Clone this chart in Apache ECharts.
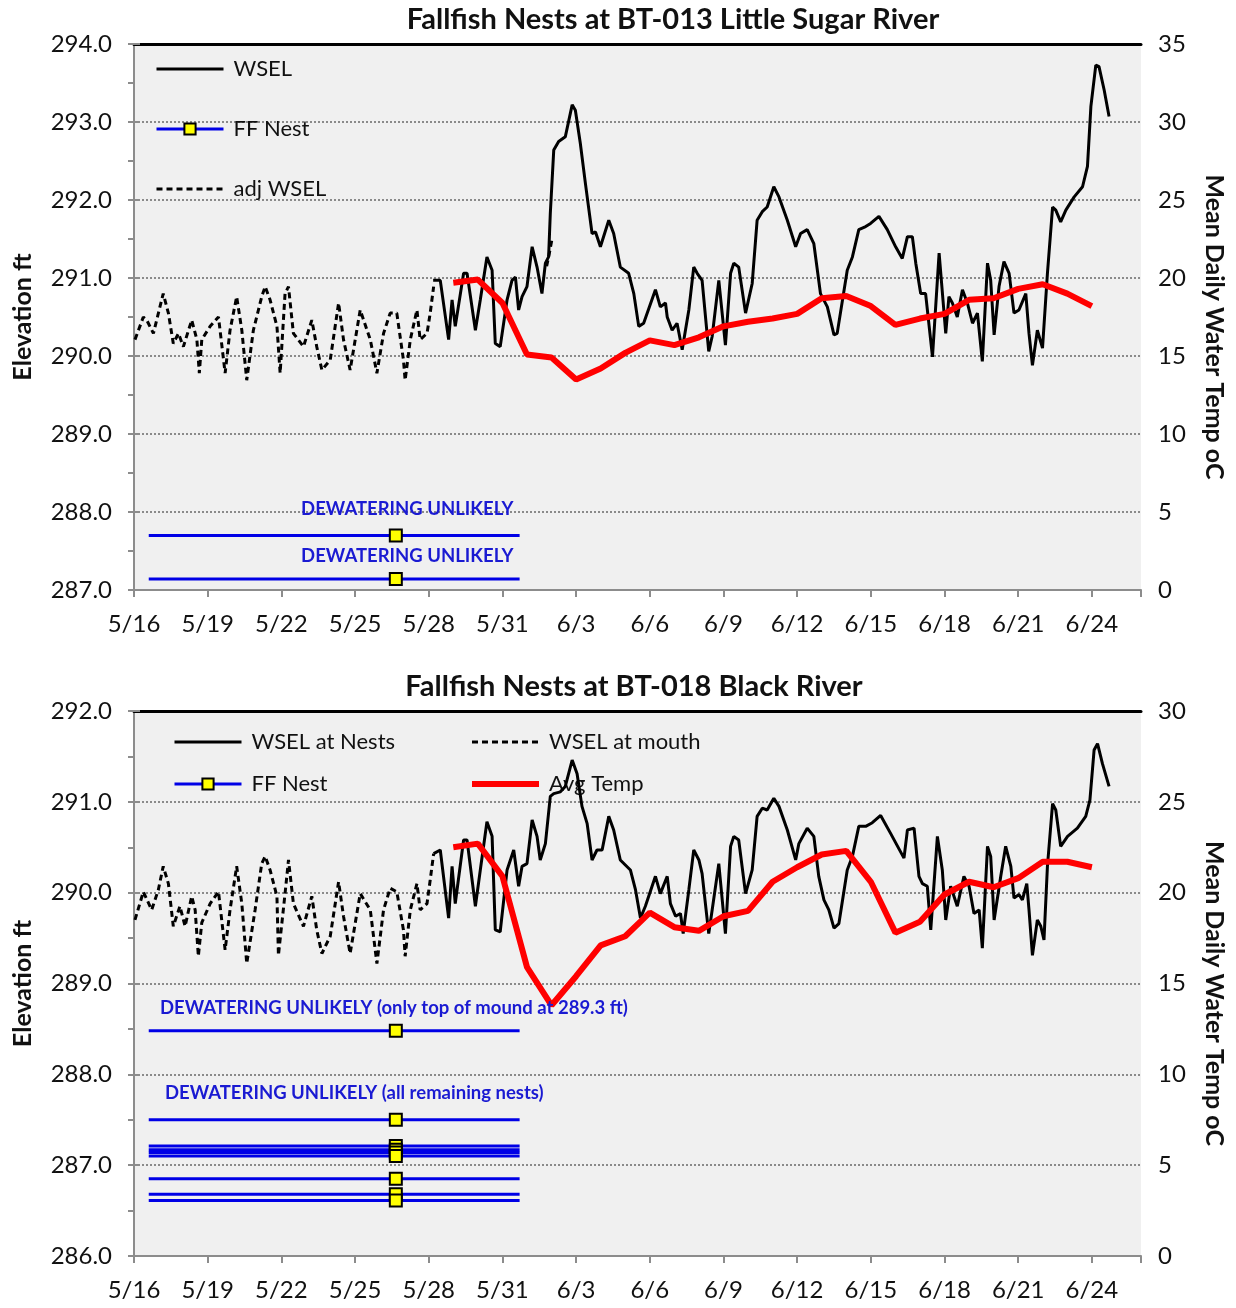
<!DOCTYPE html>
<html><head><meta charset="utf-8">
<script src="https://cdn.jsdelivr.net/npm/echarts@6/dist/echarts.min.js"></script>
<style>html,body{margin:0;padding:0;background:#fff}#c{width:1236px;height:1308px}</style>
</head><body><div id="c"></div>
<script>
// ---------- DATA (x = days since 5/16) ----------
const topTitle = 'Fallfish Nests at BT-013 Little Sugar River';
const bottomTitle = 'Fallfish Nests at BT-018 Black River';

const topAdjWsel = [[0.04,290.21],[0.38,290.50],[0.52,290.46],[0.79,290.29],[1.19,290.80],[1.40,290.55],[1.60,290.16],[1.81,290.29],[2.01,290.12],[2.35,290.46],[2.56,290.21],[2.66,289.78],[2.76,290.21],[3.10,290.38],[3.44,290.50],[3.71,289.78],[3.91,290.33],[4.18,290.76],[4.39,290.33],[4.59,289.69],[4.86,290.33],[5.20,290.76],[5.34,290.89],[5.54,290.72],[5.82,290.38],[5.95,289.78],[6.15,290.80],[6.29,290.89],[6.49,290.29],[6.90,290.12],[7.24,290.46],[7.44,290.12],[7.65,289.82],[7.99,289.95],[8.33,290.68],[8.53,290.21],[8.80,289.82],[9.21,290.59],[9.62,290.21],[9.89,289.78],[10.16,290.29],[10.43,290.55],[10.70,290.55],[10.97,289.95],[11.04,289.69],[11.25,290.21],[11.52,290.59],[11.65,290.21],[11.93,290.29],[12.06,290.55],[12.20,290.89],[12.4,null],[16.80,291.15],[16.90,291.30],[17.02,291.50]];

const topWsel = [[12.18,290.97],[12.47,290.97],[12.81,290.21],[12.95,290.72],[13.08,290.38],[13.42,291.06],[13.56,291.06],[13.90,290.33],[14.10,290.72],[14.37,291.27],[14.58,291.10],[14.71,290.16],[14.91,290.12],[15.19,290.72],[15.39,290.97],[15.53,291.01],[15.66,290.59],[15.80,290.76],[16.00,290.89],[16.21,291.40],[16.41,291.14],[16.61,290.80],[16.75,291.19],[16.88,291.27],[16.95,291.83],[17.09,292.64],[17.29,292.75],[17.56,292.81],[17.84,293.22],[17.97,293.15],[18.17,292.73],[18.38,292.21],[18.65,291.57],[18.79,291.59],[18.99,291.40],[19.33,291.74],[19.53,291.57],[19.80,291.14],[20.14,291.06],[20.35,290.80],[20.55,290.38],[20.75,290.42],[21.23,290.85],[21.43,290.63],[21.64,290.68],[21.71,290.50],[21.91,290.33],[22.11,290.42],[22.32,290.08],[22.59,290.59],[22.79,291.14],[22.93,291.06],[23.13,290.97],[23.40,290.06],[23.54,290.25],[23.81,290.97],[24.08,290.14],[24.29,291.06],[24.42,291.19],[24.62,291.14],[24.90,290.55],[25.17,290.93],[25.37,291.74],[25.58,291.85],[25.78,291.91],[26.05,292.17],[26.26,292.04],[26.60,291.74],[26.94,291.40],[27.14,291.57],[27.41,291.62],[27.68,291.44],[27.95,290.80],[28.23,290.63],[28.50,290.27],[28.63,290.29],[29.04,291.10],[29.25,291.27],[29.51,291.62],[29.79,291.66],[29.99,291.70],[30.33,291.79],[30.67,291.62],[31.01,291.40],[31.28,291.25],[31.49,291.53],[31.69,291.53],[31.83,291.19],[32.03,290.80],[32.23,290.80],[32.51,289.99],[32.78,291.32],[33.05,290.29],[33.18,290.76],[33.32,290.68],[33.52,290.50],[33.73,290.85],[33.93,290.68],[34.14,290.42],[34.34,290.55],[34.54,289.93],[34.75,291.19],[34.88,290.97],[35.02,290.27],[35.22,290.89],[35.42,291.21],[35.63,291.06],[35.83,290.55],[36.03,290.59],[36.31,290.80],[36.44,290.29],[36.58,289.88],[36.78,290.33],[36.99,290.10],[37.19,291.06],[37.40,291.91],[37.53,291.87],[37.73,291.72],[37.94,291.87],[38.28,292.04],[38.62,292.17],[38.82,292.43],[38.96,293.20],[39.16,293.73],[39.29,293.71],[39.50,293.41],[39.70,293.07]];

const tempDays = [13,14,15,16,17,18,19,20,21,22,23,24,25,26,27,28,29,30,31,32,33,34,35,36,37,38,39];
const topTemp = [19.7,19.9,18.4,15.1,14.9,13.5,14.2,15.2,16.0,15.7,16.2,16.9,17.2,17.4,17.7,18.7,18.85,18.2,17.0,17.4,17.7,18.6,18.7,19.3,19.6,19.0,18.2];
const bottomTemp = [22.5,22.7,20.9,15.9,13.8,15.4,17.1,17.6,18.9,18.1,17.9,18.7,19.0,20.6,21.4,22.1,22.3,20.6,17.8,18.4,19.9,20.6,20.3,20.8,21.7,21.7,21.4];

const bottomMouth = [[0.04,289.70],[0.38,290.01],[0.72,289.81],[0.99,290.03],[1.19,290.29],[1.40,290.10],[1.60,289.63],[1.87,289.85],[2.08,289.63],[2.35,289.96],[2.49,289.81],[2.62,289.30],[2.76,289.67],[3.10,289.88],[3.44,290.01],[3.71,289.37],[3.91,289.81],[4.18,290.29],[4.39,289.88],[4.59,289.22],[4.93,289.81],[5.20,290.32],[5.34,290.40],[5.54,290.25],[5.82,289.96],[5.88,289.31],[6.15,289.99],[6.29,290.36],[6.49,289.88],[6.90,289.63],[7.24,289.96],[7.44,289.59],[7.65,289.33],[7.99,289.52],[8.33,290.12],[8.53,289.74],[8.80,289.33],[9.21,289.99],[9.62,289.81],[9.89,289.22],[10.16,289.81],[10.43,290.05],[10.70,290.01],[10.97,289.59],[11.04,289.30],[11.25,289.81],[11.52,290.10],[11.65,289.81],[11.93,289.88],[12.06,290.14],[12.20,290.43]];

const bottomNests = [[12.20,290.43],[12.47,290.47],[12.81,289.72],[12.95,290.29],[13.08,289.88],[13.42,290.58],[13.56,290.58],[13.90,289.85],[14.10,290.25],[14.37,290.78],[14.58,290.62],[14.71,289.59],[14.91,289.57],[15.19,290.25],[15.46,290.47],[15.66,290.07],[15.80,290.29],[16.00,290.32],[16.21,290.80],[16.41,290.62],[16.54,290.36],[16.75,290.54],[16.95,291.06],[17.09,291.09],[17.36,291.11],[17.56,291.17],[17.84,291.46],[18.04,291.31],[18.24,290.95],[18.45,290.76],[18.65,290.36],[18.85,290.47],[19.06,290.47],[19.33,290.84],[19.53,290.69],[19.80,290.36],[20.21,290.25],[20.42,290.03],[20.62,289.72],[20.82,289.85],[21.23,290.18],[21.43,289.99],[21.71,290.18],[21.84,289.88],[22.05,289.74],[22.25,289.77],[22.36,289.55],[22.59,290.03],[22.79,290.47],[23.00,290.36],[23.13,290.21],[23.40,289.55],[23.54,289.81],[23.81,290.32],[24.08,289.55],[24.29,290.51],[24.42,290.62],[24.62,290.58],[24.90,289.99],[25.17,290.25],[25.37,290.84],[25.58,290.93],[25.78,290.91],[26.05,291.04],[26.26,290.95],[26.60,290.69],[26.94,290.36],[27.07,290.54],[27.41,290.71],[27.68,290.62],[27.88,290.18],[28.09,289.92],[28.29,289.81],[28.50,289.61],[28.70,289.66],[29.04,290.25],[29.25,290.40],[29.51,290.73],[29.79,290.73],[30.06,290.77],[30.40,290.85],[30.81,290.65],[31.35,290.38],[31.49,290.69],[31.76,290.71],[31.96,290.18],[32.10,290.10],[32.30,290.07],[32.44,289.59],[32.71,290.62],[32.91,290.25],[33.05,289.70],[33.25,290.07],[33.52,289.85],[33.79,290.18],[34.00,290.07],[34.20,289.77],[34.41,289.81],[34.54,289.39],[34.75,290.51],[34.88,290.40],[35.02,289.70],[35.29,290.18],[35.49,290.51],[35.70,290.29],[35.83,289.94],[36.03,289.98],[36.17,289.92],[36.35,290.10],[36.44,289.81],[36.58,289.31],[36.78,289.70],[36.92,289.63],[37.05,289.48],[37.19,290.29],[37.40,290.98],[37.53,290.91],[37.73,290.51],[38.01,290.62],[38.41,290.71],[38.75,290.84],[38.92,291.02],[39.09,291.57],[39.23,291.64],[39.43,291.42],[39.70,291.17]];

const nestDays = [0.6, 10.66, 15.7];
const topNestLevels = [287.70, 287.14];
const bottomNestLevels = [288.48, 287.50, 287.21, 287.17, 287.14, 287.10, 286.85, 286.68, 286.61];

const topNotes = [
  {text: 'DEWATERING UNLIKELY', at: [15.45, 288.04]},
  {text: 'DEWATERING UNLIKELY', at: [15.45, 287.44]}
];
const bottomNotes = [
  {text: 'DEWATERING UNLIKELY (only top of mound at 289.3 ft)', at: [1.06, 288.73]},
  {text: 'DEWATERING UNLIKELY (all remaining nests)', at: [1.26, 287.79]}
];

// ---------- CHART ----------
const FONT = 'Lato, "Open Sans", sans-serif';
const GRAY = '#8c8c8c';
const BLUE = '#0000e6';
const NOTE_BLUE = '#1a1ad2';

function dayLabel(v) {
  if (Math.abs(v % 3) > 1e-6) return '';
  const d = 16 + v;
  return d <= 31 ? '5/' + d : '6/' + (d - 31);
}

function xAxisBottom(gi) {
  return {
    type: 'value', gridIndex: gi, position: 'bottom', min: 0, max: 41, interval: 3,
    axisLine: {show: true, lineStyle: {color: GRAY, width: 2}},
    axisTick: {show: true, inside: false, length: 7, lineStyle: {color: GRAY, width: 2}},
    axisLabel: {formatter: dayLabel, fontSize: 24, color: '#111', fontFamily: FONT, margin: 22},
    splitLine: {show: false}
  };
}
function xAxisTop(gi) {
  return {
    type: 'value', gridIndex: gi, position: 'top', min: 0, max: 41,
    axisLine: {show: true, lineStyle: {color: '#000', width: 3}},
    axisTick: {show: false}, axisLabel: {show: false}, splitLine: {show: false}
  };
}
function yLeft(gi, min, max) {
  return {
    type: 'value', gridIndex: gi, position: 'left', min: min, max: max, interval: 1,
    name: 'Elevation ft', nameLocation: 'middle', nameGap: 99, nameRotate: 90,
    nameTextStyle: {fontSize: 25, fontWeight: 'bold', color: '#111', fontFamily: FONT},
    axisLine: {show: true, lineStyle: {color: GRAY, width: 2}},
    axisTick: {show: true, length: 6, lineStyle: {color: GRAY, width: 2}},
    minorTick: {show: true, splitNumber: 2, length: 6, lineStyle: {color: GRAY, width: 2}},
    axisLabel: {formatter: v => v.toFixed(1), fontSize: 24, color: '#111', fontFamily: FONT, margin: 22},
    splitLine: {show: true, lineStyle: {color: '#8a8a8a', width: 2, type: [2, 2]}}
  };
}
function yRight(gi, max) {
  return {
    type: 'value', gridIndex: gi, position: 'right', min: 0, max: max, interval: 5,
    name: 'Mean Daily Water Temp oC', nameLocation: 'middle', nameGap: 61, nameRotate: -90,
    nameTextStyle: {fontSize: 25, fontWeight: 'bold', color: '#111', fontFamily: FONT, padding: [0, 0, 0, 20]},
    axisLine: {show: true, lineStyle: {color: GRAY, width: 2}},
    axisTick: {show: true, length: 6, lineStyle: {color: GRAY, width: 2}},
    axisLabel: {fontSize: 24, color: '#111', fontFamily: FONT, margin: 17},
    splitLine: {show: false}
  };
}

function nestSeries(level, xi, yi, notes, noteSide) {
  const s = {
    name: 'FF Nest', type: 'line', xAxisIndex: xi, yAxisIndex: yi,
    symbol: 'rect', symbolSize: 12, showSymbol: true,
    lineStyle: {color: BLUE, width: 3},
    itemStyle: {color: '#ffff00', borderColor: '#000', borderWidth: 2},
    data: nestDays.map((d, i) => i === 1 ? [d, level] : {value: [d, level], symbol: 'none'}),
    z: 3
  };
  if (notes) {
    s.markPoint = {
      symbol: 'circle', symbolSize: 0, silent: true, animation: false,
      label: {show: true, position: noteSide, distance: 0, color: NOTE_BLUE, fontWeight: 'bold',
              fontSize: 18.5, fontFamily: FONT, formatter: p => p.name},
      data: notes.map(n => ({name: n.text, coord: n.at}))
    };
  }
  return s;
}

function plainLine(name, xi, yi, data, color, width, dash, z) {
  return {name: name, type: 'line', xAxisIndex: xi, yAxisIndex: yi, symbol: 'none', showSymbol: false,
    connectNulls: false, itemStyle: {color: color},
    lineStyle: {color: color, width: width, type: dash || 'solid'}, data: data, z: z};
}

const series = [];
// top chart
series.push(plainLine('WSEL', 0, 0, topWsel, '#000', 3, null, 2));
series.push(plainLine('adj WSEL', 0, 0, topAdjWsel, '#000', 3, [6, 4], 2));
topNestLevels.forEach((lv, i) => series.push(nestSeries(lv, 0, 0, i === 0 ? topNotes : null, 'left')));
series.push(plainLine('Avg Temp', 0, 1, tempDays.map((d, i) => [d, topTemp[i]]), '#ff0000', 6, null, 4));
// bottom chart
series.push(plainLine('WSEL at Nests', 2, 2, bottomNests, '#000', 3, null, 2));
series.push(plainLine('WSEL at mouth', 2, 2, bottomMouth, '#000', 3, [6, 4], 2));
bottomNestLevels.forEach((lv, i) => series.push(nestSeries(lv, 2, 2, i === 0 ? bottomNotes : null, 'right')));
series.push(plainLine('Avg Temp', 2, 3, tempDays.map((d, i) => [d, bottomTemp[i]]), '#ff0000', 6, null, 4));

const noDot = {color: 'rgba(0,0,0,0)', borderColor: 'rgba(0,0,0,0)', borderWidth: 0, opacity: 0};
function li(name, width, hideSymbol) {
  const o = {name: name, lineStyle: {width: width}};
  if (hideSymbol) o.itemStyle = noDot;
  return o;
}

const legendBase = {
  orient: 'vertical', padding: 0, itemWidth: 67, itemHeight: 14, z: 1,
  selectedMode: false,
  textStyle: {fontSize: 22, color: '#111', fontFamily: FONT, padding: [0, 0, 0, 5]}
};

const option = {
  animation: false,
  backgroundColor: '#ffffff',
  title: [
    {text: topTitle, left: 668, top: 0, textAlign: 'center',
     textStyle: {fontSize: 29, fontWeight: 'bold', color: '#111', fontFamily: FONT}},
    {text: bottomTitle, left: 629, top: 667, textAlign: 'center',
     textStyle: {fontSize: 29, fontWeight: 'bold', color: '#111', fontFamily: FONT}}
  ],
  legend: [
    Object.assign({}, legendBase, {left: 155, top: 58, itemGap: 38,
      data: [li('WSEL', 3, true), li('FF Nest', 3), li('adj WSEL', 3, true)]}),
    Object.assign({}, legendBase, {left: 173, top: 731, itemGap: 20,
      data: [li('WSEL at Nests', 3, true), li('FF Nest', 3)]}),
    Object.assign({}, legendBase, {left: 469, top: 731, itemGap: 20,
      data: [li('WSEL at mouth', 3, true), li('Avg Temp', 6, true)]})
  ],
  grid: [
    {left: 134, right: 95, top: 44, height: 546, show: true, backgroundColor: '#f0f0f0', borderWidth: 0},
    {left: 134, right: 95, top: 711, height: 545, show: true, backgroundColor: '#f0f0f0', borderWidth: 0}
  ],
  xAxis: [xAxisBottom(0), xAxisTop(0), xAxisBottom(1), xAxisTop(1)],
  yAxis: [yLeft(0, 287, 294), yRight(0, 35), yLeft(1, 286, 292), yRight(1, 30)],
  series: series
};

const chart = echarts.init(document.getElementById('c'), null, {renderer: 'canvas'});
chart.setOption(option);
</script></body></html>
